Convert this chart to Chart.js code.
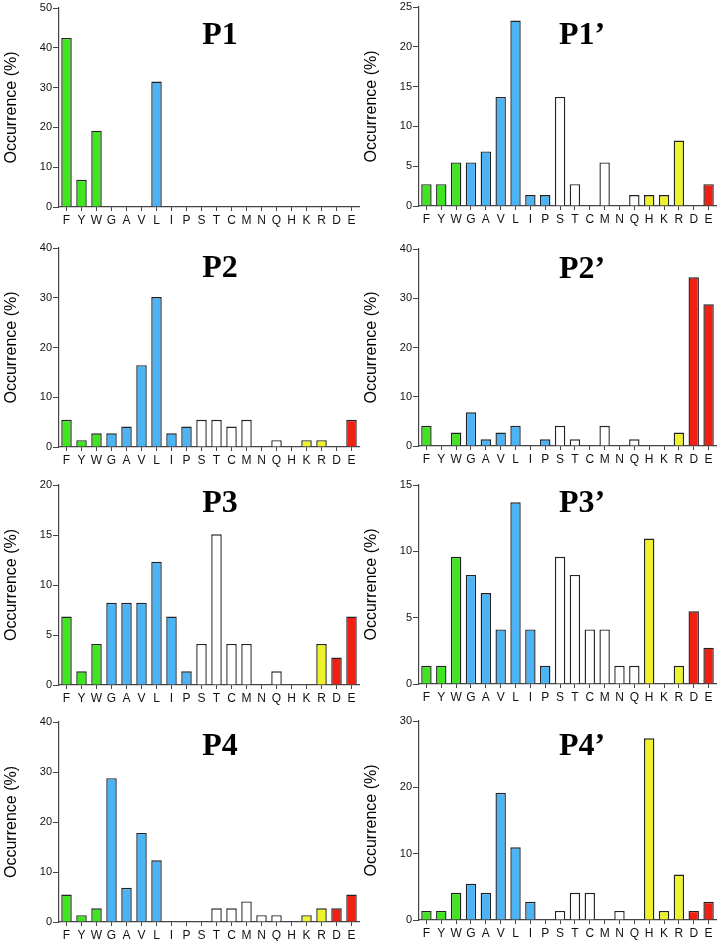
<!DOCTYPE html>
<html>
<head>
<meta charset="utf-8">
<script src="https://cdn.jsdelivr.net/npm/chart.js@4"></script>
<style>
  body { margin: 0; background: #fff; width: 720px; height: 941px; position: relative; overflow: hidden; }
  canvas { position: absolute; }
</style>
</head>
<body>
<script>
// residues on the x axis
const residues = ['F', 'Y', 'W', 'G', 'A', 'V', 'L', 'I', 'P', 'S', 'T', 'C', 'M', 'N', 'Q', 'H', 'K', 'R', 'D', 'E'];

// occurrence (%) per residue
const p1  = [42.47, 6.85, 19.18, 0, 0, 0, 31.51, 0, 0, 0, 0, 0, 0, 0, 0, 0, 0, 0, 0, 0];
const p1p = [2.74, 2.74, 5.48, 5.48, 6.85, 13.70, 23.29, 1.37, 1.37, 13.70, 2.74, 0, 5.48, 0, 1.37, 1.37, 1.37, 8.22, 0, 2.74];
const p2  = [5.48, 1.37, 2.74, 2.74, 4.11, 16.44, 30.14, 2.74, 4.11, 5.48, 5.48, 4.11, 5.48, 0, 1.37, 0, 1.37, 1.37, 0, 5.48];
const p2p = [4.11, 0, 2.74, 6.85, 1.37, 2.74, 4.11, 0, 1.37, 4.11, 1.37, 0, 4.11, 0, 1.37, 0, 0, 2.74, 34.25, 28.77];
const p3  = [6.85, 1.37, 4.11, 8.22, 8.22, 8.22, 12.33, 6.85, 1.37, 4.11, 15.07, 4.11, 4.11, 0, 1.37, 0, 0, 4.11, 2.74, 6.85];
const p3p = [1.37, 1.37, 9.59, 8.22, 6.85, 4.11, 13.70, 4.11, 1.37, 9.59, 8.22, 4.11, 4.11, 1.37, 1.37, 10.96, 0, 1.37, 5.48, 2.74];
const p4  = [5.48, 1.37, 2.74, 28.77, 6.85, 17.81, 12.33, 0, 0, 0, 2.74, 2.74, 4.11, 1.37, 1.37, 0, 1.37, 2.74, 2.74, 5.48];
const p4p = [1.37, 1.37, 4.11, 5.48, 4.11, 19.18, 10.96, 2.74, 0, 1.37, 4.11, 4.11, 0, 1.37, 0, 27.40, 1.37, 6.85, 1.37, 2.74];

// y axis ranges
const yMax  = [50, 25, 40, 40, 20, 15, 40, 30];
const yStep = [10, 5, 10, 10, 5, 5, 10, 10];

const titles = ['P1', 'P1\u2019', 'P2', 'P2\u2019', 'P3', 'P3\u2019', 'P4', 'P4\u2019'];
const series = [p1, p1p, p2, p2p, p3, p3p, p4, p4p];

// residue class colours
const green = '#3fe51e', blue = '#4cb3f5', white = '#ffffff', yellow = '#edf22b', red = '#f31f13';
const barColors = residues.map(r =>
  'FYW'.includes(r) ? green :
  'GAVLIP'.includes(r) ? blue :
  'HKR'.includes(r) ? yellow :
  'DE'.includes(r) ? red : white);

// panel placement: chart area top/bottom in page pixels, title baseline
const layout = [
  { left: 0,   top: 8,   bottom: 207, right: 1, titleY: 44 },
  { left: 360, top: 7,   bottom: 206, right: 4, titleY: 44 },
  { left: 0,   top: 248, bottom: 447, right: 1, titleY: 277 },
  { left: 360, top: 249, bottom: 446, right: 4, titleY: 278 },
  { left: 0,   top: 485, bottom: 685, right: 1, titleY: 512 },
  { left: 360, top: 485, bottom: 684, right: 4, titleY: 512 },
  { left: 0,   top: 722, bottom: 922, right: 1, titleY: 755 },
  { left: 360, top: 721, bottom: 920, right: 4, titleY: 755 }
];

const PAD_TOP = 8, XAXIS_H = 30, YAXIS_W = 59;

const panelTitle = {
  id: 'panelTitle',
  afterDraw(chart, args, opts) {
    const ctx = chart.ctx;
    ctx.save();
    ctx.font = 'bold 32px "Liberation Serif", "Times New Roman", serif';
    ctx.fillStyle = '#000';
    ctx.textAlign = 'center';
    ctx.textBaseline = 'alphabetic';
    ctx.fillText(opts.text, opts.x, opts.y);
    ctx.restore();
  }
};

const sans = '"Liberation Sans", Arial, sans-serif';

series.forEach((values, i) => {
  const L = layout[i];
  const canvas = document.createElement('canvas');
  const h = (L.bottom - L.top) + PAD_TOP + XAXIS_H;
  const canvasTop = L.top - PAD_TOP;
  canvas.style.left = L.left + 'px';
  canvas.style.top = canvasTop + 'px';
  canvas.style.width = '360px';
  canvas.style.height = h + 'px';
  canvas.width = 360;
  canvas.height = h;
  document.body.appendChild(canvas);

  new Chart(canvas.getContext('2d'), {
    type: 'bar',
    data: {
      labels: residues,
      datasets: [{
        data: values,
        backgroundColor: barColors,
        borderColor: '#222',
        borderWidth: 1.4,
        barPercentage: 0.7,
        categoryPercentage: 1
      }]
    },
    options: {
      responsive: false,
      animation: false,
      devicePixelRatio: 1,
      layout: { padding: { top: PAD_TOP, right: L.right, left: 0, bottom: 0 } },
      plugins: {
        legend: { display: false },
        tooltip: { enabled: false },
        panelTitle: { text: titles[i], x: i % 2 ? 222 : 220, y: L.titleY - canvasTop }
      },
      scales: {
        x: {
          grid: { display: true, drawOnChartArea: false, drawTicks: true, tickLength: 4, offset: false, color: '#444' },
          border: { display: true, color: '#444', width: 1.2 },
          ticks: { color: '#111', font: { family: sans, size: 12 }, padding: 2, maxRotation: 0, autoSkip: false },
          afterFit: s => { s.height = XAXIS_H; }
        },
        y: {
          min: 0,
          max: yMax[i],
          grid: { display: true, drawOnChartArea: false, drawTicks: true, tickLength: 6, color: '#444' },
          border: { display: true, color: '#444', width: 1.2 },
          ticks: { stepSize: yStep[i], color: '#111', font: { family: sans, size: 11 }, padding: 1 },
          title: {
            display: true,
            text: 'Occurrence (%)',
            color: '#000',
            font: { family: sans, size: 16 },
            padding: { top: 2, bottom: 4 }
          },
          afterFit: s => { s.width = YAXIS_W; }
        }
      }
    },
    plugins: [panelTitle]
  });
});
</script>
</body>
</html>
